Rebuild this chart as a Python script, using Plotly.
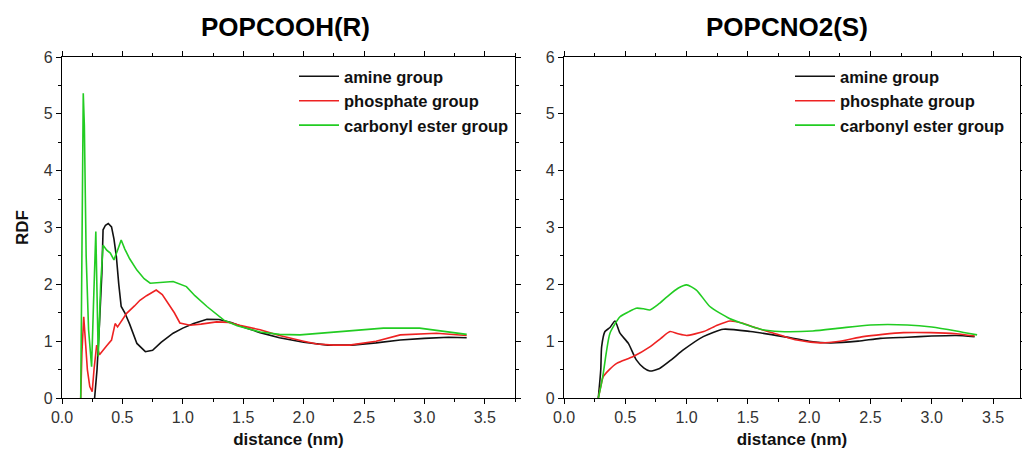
import plotly.graph_objects as go

# ---- data: POPCOOH(R) ----
L_amine_d = [0.27,0.29,0.31,0.33,0.34,0.36,0.383,0.41,0.43,0.45,0.47,0.49,0.52,0.56,0.62,0.69,0.75,0.82,0.92,1.0,1.09,1.2,1.3,1.4,1.5,1.64,1.8,2.0,2.2,2.4,2.6,2.8,3.0,3.2,3.35]
L_amine_v = [0,0.5,1.3,2.19,2.96,3.04,3.07,3.01,2.8,2.49,2.0,1.61,1.5,1.3,0.96,0.815,0.84,0.98,1.14,1.23,1.31,1.385,1.38,1.33,1.25,1.15,1.06,0.98,0.93,0.93,0.97,1.02,1.05,1.07,1.06]
L_phos_d = [0.155,0.165,0.18,0.19,0.21,0.23,0.25,0.265,0.287,0.31,0.34,0.37,0.41,0.44,0.46,0.5,0.535,0.6,0.645,0.7,0.78,0.83,0.88,0.93,0.976,1.06,1.15,1.28,1.38,1.47,1.64,1.8,2.0,2.11,2.25,2.38,2.6,2.8,3.1,3.35]
L_phos_v = [0,0.8,1.43,1.1,0.5,0.2,0.11,0.5,0.93,0.76,0.85,0.92,1.02,1.31,1.25,1.38,1.49,1.62,1.72,1.8,1.9,1.82,1.67,1.5,1.32,1.28,1.3,1.34,1.33,1.28,1.2,1.1,1.0,0.95,0.93,0.93,1.0,1.11,1.14,1.1]
L_carb_d = [0.155,0.165,0.176,0.185,0.2,0.22,0.245,0.26,0.28,0.30,0.32,0.34,0.37,0.4,0.43,0.46,0.49,0.52,0.56,0.62,0.68,0.73,0.82,0.92,1.03,1.1,1.2,1.34,1.45,1.64,1.8,1.97,2.2,2.45,2.66,2.96,3.15,3.35]
L_carb_v = [0,3.0,5.36,4.8,2.5,1.2,0.55,1.6,2.93,0.73,2.0,2.69,2.6,2.55,2.43,2.6,2.78,2.62,2.45,2.25,2.1,2.02,2.04,2.05,1.96,1.8,1.61,1.37,1.27,1.16,1.12,1.11,1.15,1.2,1.23,1.23,1.18,1.12]

# ---- data: POPCNO2(S) ----
R_amine_d = [0.28,0.30,0.307,0.334,0.375,0.416,0.457,0.525,0.59,0.65,0.70,0.78,0.88,0.973,1.136,1.3,1.52,1.79,2.0,2.17,2.4,2.58,2.8,3.0,3.2,3.35]
R_amine_v = [0,0.5,0.9,1.17,1.24,1.355,1.14,0.96,0.67,0.53,0.475,0.52,0.68,0.845,1.08,1.21,1.17,1.08,1.0,0.97,1.0,1.05,1.07,1.09,1.1,1.08]
R_phos_d = [0.28,0.30,0.32,0.37,0.43,0.565,0.70,0.79,0.865,0.93,1.0,1.14,1.25,1.354,1.45,1.57,1.76,1.9,2.09,2.25,2.44,2.6,2.77,2.99,3.2,3.35]
R_phos_v = [0,0.2,0.375,0.5,0.61,0.73,0.9,1.05,1.17,1.13,1.1,1.17,1.28,1.355,1.32,1.23,1.11,1.02,0.97,1.0,1.08,1.12,1.15,1.15,1.13,1.09]
R_carb_d = [0.28,0.30,0.32,0.345,0.375,0.457,0.53,0.59,0.65,0.70,0.77,0.84,0.93,1.0,1.08,1.19,1.35,1.5,1.62,1.76,2.03,2.25,2.5,2.8,3.0,3.2,3.37]
R_carb_v = [0,0.2,0.43,0.8,1.14,1.43,1.52,1.58,1.57,1.55,1.65,1.78,1.93,1.99,1.90,1.61,1.40,1.28,1.2,1.17,1.18,1.23,1.285,1.285,1.25,1.18,1.11]

names = ["amine group", "phosphate group", "carbonyl ester group"]
colors = ["#111111", "#ee2222", "#22cc22"]
titles = ["POPCOOH(R)", "POPCNO2(S)"]
y_ticks = [0, 1, 2, 3, 4, 5, 6]
x_ticks = [0.0, 0.5, 1.0, 1.5, 2.0, 2.5, 3.0, 3.5]

FONT = "Liberation Sans"
fig = go.Figure()

left = [(L_amine_d, L_amine_v), (L_phos_d, L_phos_v), (L_carb_d, L_carb_v)]
right = [(R_amine_d, R_amine_v), (R_phos_d, R_phos_v), (R_carb_d, R_carb_v)]

for i, (d, v) in enumerate(left):
    fig.add_trace(go.Scatter(x=d, y=v, mode="lines", name=names[i],
                             line=dict(color=colors[i], width=1.6),
                             xaxis="x", yaxis="y", legend="legend"))
for i, (d, v) in enumerate(right):
    fig.add_trace(go.Scatter(x=d, y=v, mode="lines", name=names[i],
                             line=dict(color=colors[i], width=1.6, shape="spline", smoothing=0.6),
                             xaxis="x2", yaxis="y2", legend="legend2"))

W, H = 1022, 449
def px(x): return x / W
def py(y): return 1 - y / H

axis_common = dict(showline=True, linecolor="#000", linewidth=1.2, mirror="ticks",
                   ticks="outside", ticklen=5, tickcolor="#000", tickwidth=1,
                   showgrid=False, zeroline=False, automargin=False,
                   tickfont=dict(family=FONT, size=16, color="#333"))
title_font = dict(family=FONT, size=17, weight="bold", color="#111")
legend_font = dict(family=FONT, size=16.5, weight="bold", color="#111")

fig.update_layout(
    width=W, height=H, margin=dict(l=0, r=0, t=0, b=0, autoexpand=False),
    paper_bgcolor="white", plot_bgcolor="white",
    xaxis=dict(domain=[px(62), px(515)], range=[0, 3.75], anchor="y",
               tickvals=x_ticks, tickformat=".1f",
               minor=dict(dtick=0.25, ticks="outside", ticklen=3, tickcolor="#000"),
               title=dict(text="distance (nm)", font=title_font, standoff=7),
               **axis_common),
    yaxis=dict(domain=[py(398), py(57)], range=[0, 6], anchor="x",
               tickvals=y_ticks,
               minor=dict(dtick=0.5, ticks="outside", ticklen=3, tickcolor="#000"),
               title=dict(text="RDF", font=title_font, standoff=10),
               **axis_common),
    xaxis2=dict(domain=[px(564), px(1020)], range=[0, 3.72], anchor="y2",
                tickvals=x_ticks, tickformat=".1f",
                minor=dict(dtick=0.25, ticks="outside", ticklen=3, tickcolor="#000"),
                title=dict(text="distance (nm)", font=title_font, standoff=7),
                **axis_common),
    yaxis2=dict(domain=[py(398), py(57)], range=[0, 6], anchor="x2",
                tickvals=y_ticks,
                minor=dict(dtick=0.5, ticks="outside", ticklen=3, tickcolor="#000"),
                **axis_common),
    legend=dict(x=px(294), y=py(59), xanchor="left", yanchor="top",
                bgcolor="rgba(0,0,0,0)", tracegroupgap=0, itemwidth=40,
                font=legend_font),
    legend2=dict(x=px(790), y=py(59), xanchor="left", yanchor="top",
                 bgcolor="rgba(0,0,0,0)", tracegroupgap=0, itemwidth=40,
                 font=legend_font),
    showlegend=True,
)

for t, xc in zip(titles, [285, 787]):
    fig.add_annotation(text=t, x=px(xc), y=py(27), xref="paper", yref="paper",
                       showarrow=False, xanchor="center", yanchor="middle",
                       font=dict(family=FONT, size=26, weight="bold", color="#000"))

fig.write_html("out.html")
